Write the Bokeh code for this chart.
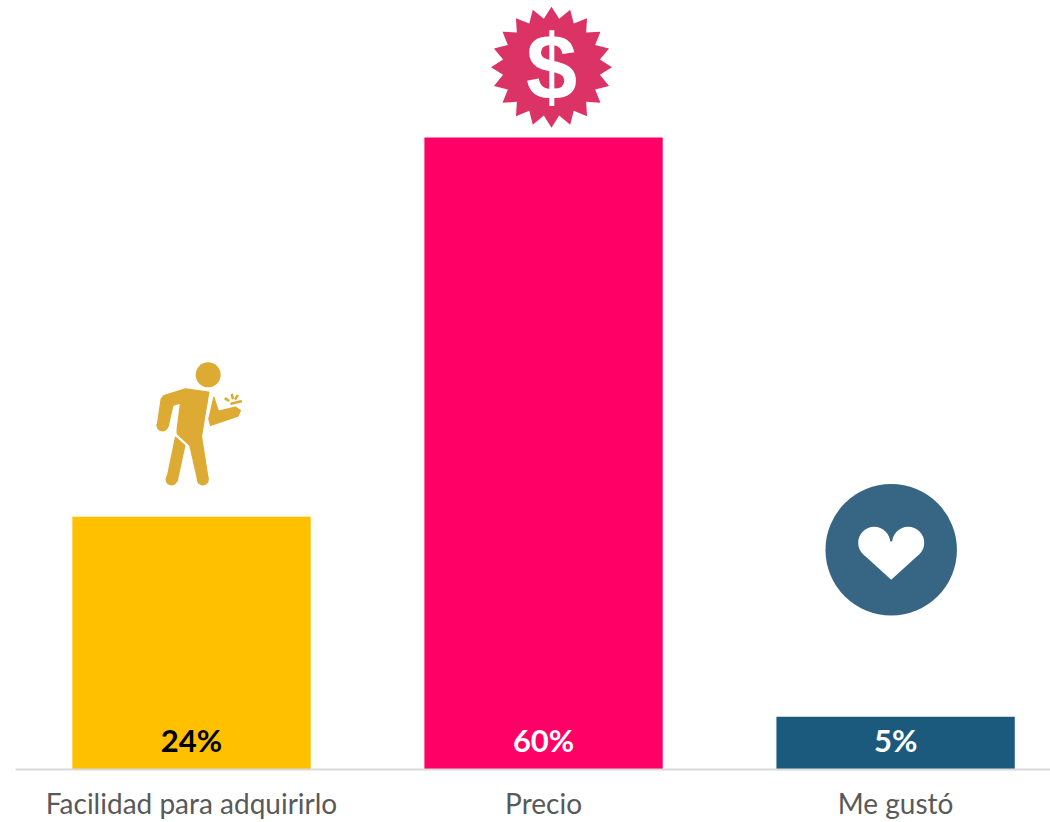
import math
from bokeh.plotting import figure
from bokeh.models import Range1d, ColumnDataSource, FixedTicker
from bokeh.core.properties import value
from bokeh.embed import file_html
from bokeh.resources import INLINE

categories = ["Facilidad para adquirirlo", "Precio", "Me gustó"]
shares = [24, 60, 5]
share_labels = ["24%", "60%", "5%"]
bar_colors = ["#FFC000", "#FF0066", "#1C5A7D"]
label_colors = ["#000000", "#FFFFFF", "#FFFFFF"]
positions = list(range(len(categories)))

FONT = "Lato"
p = figure(width=1050, height=822, output_backend="svg", toolbar_location=None,
           x_range=Range1d(-0.5, 2.44), y_range=Range1d(0, 73.0),
           min_border_left=15, min_border_right=0, min_border_top=0, min_border_bottom=53,
           outline_line_color=None, background_fill_color="#FFFFFF")
p.grid.visible = False
p.yaxis.visible = False
ax = p.xaxis[0]
ax.ticker = FixedTicker(ticks=positions)
ax.major_label_overrides = {i: c for i, c in zip(positions, categories)}
ax.major_label_text_font = FONT
ax.major_label_text_font_size = "28px"
ax.major_label_text_color = "#595959"
ax.major_label_standoff = 10
ax.axis_line_color = "#D9D9D9"
ax.axis_line_width = 2
ax.major_tick_line_color = None
ax.minor_tick_line_color = None

src = ColumnDataSource(dict(x=positions, top=shares, color=bar_colors, label=share_labels, tc=label_colors))
p.vbar(x="x", top="top", bottom=0, width=0.677, fill_color="color", line_color=None, source=src)
p.text(x="x", y=0, text="label", text_color="tc", source=src, text_align="center", text_baseline="alphabetic",
       text_font=value(FONT), text_font_style="bold", text_font_size="31px", y_offset=-30)

# icons are drawn in a pixel-based extra range
p.extra_x_ranges["px"] = Range1d(15, 1050)
p.extra_y_ranges["px"] = Range1d(769, 0)
def patch(xs, ys, color, lw=0):
    p.patch(xs, ys, fill_color=color, line_color=color if lw else None, line_width=lw or 1, line_join="round",
            x_range_name="px", y_range_name="px")
def dot(x, y, d, color):
    p.scatter([x], [y], size=d, marker="circle", fill_color=color, line_color=None, x_range_name="px", y_range_name="px")

# star with dollar
STAR = "#DC3366"
cx, cy = 551, 66.7
n = 20
sx, sy = [], []
for i in range(2 * n):
    r = 60.5 if i % 2 == 0 else 49
    a = math.pi * i / n
    sx.append(cx + r * math.sin(a))
    sy.append(cy - r * math.cos(a))
patch(sx, sy, STAR)
p.text([cx], [cy], text=["$"], text_color="#FFFFFF", text_align="center", text_baseline="middle",
       text_font=value("Liberation Sans"), text_font_style="bold", text_font_size="92px",
       x_range_name="px", y_range_name="px")

# person
GOLD = "#DDAB33"
def Z(pts):
    return [130 + a / 3 for a, b in pts], [350 + b / 3 for a, b in pts]
dot(130 + 233 / 3, 350 + 73 / 3, 25, GOLD)
for shape in (
    [(100, 135), (165, 115), (235, 125), (213, 258), (233, 385), (202, 390), (178, 285), (140, 250), (140, 235), (150, 157), (127, 165), (113, 228), (80, 225), (92, 145)],
    [(135, 260), (163, 285), (140, 392), (109, 385)],
    [(250, 140), (264, 182), (315, 170), (330, 180), (322, 197), (240, 225), (235, 205)],
    [(285, 142), (296, 149), (294, 152), (283, 146)],
    [(302, 132), (306, 131), (309, 144), (305, 145)],
    [(319, 134), (323, 136), (316, 147), (313, 145)],
    [(301, 158), (332, 150), (333, 154), (302, 162)],
):
    xs, ys = Z(shape)
    patch(xs, ys, GOLD, 1.2)
for a, b in [(96, 225), (123, 387), (217, 387)]:
    dot(130 + a / 3, 350 + b / 3, 12, GOLD)

# heart
NAVY = "#376684"
hx, hy = 890.7, 549.3
ly = 542.3
dot(hx, hy, 131.5, NAVY)
dot(hx - 17, ly, 32, "#FFFFFF")
dot(hx + 17, ly, 32, "#FFFFFF")
patch([hx - 28.3, hx, hx + 28.3, hx + 17, hx, hx - 17], [ly + 11.3, 579.3, ly + 11.3, ly, ly - 1.6, ly], "#FFFFFF")

open("out.html", "w").write(file_html(p, INLINE))
